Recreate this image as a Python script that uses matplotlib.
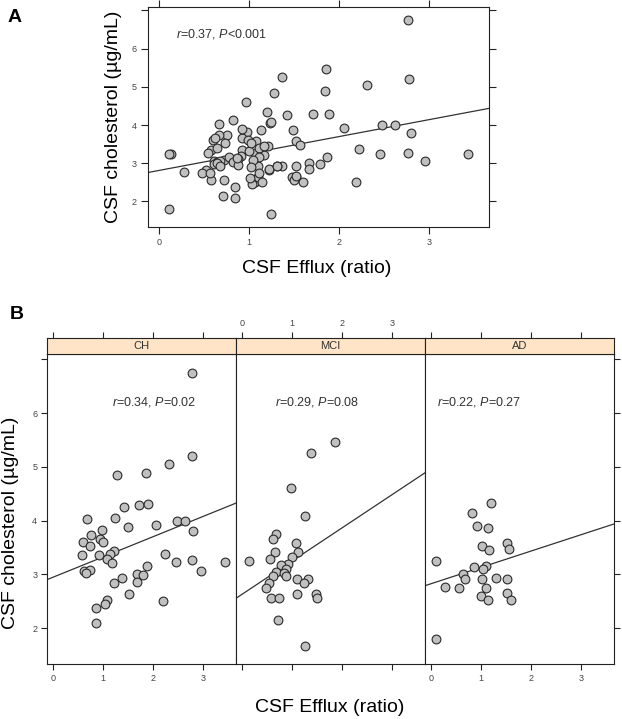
import matplotlib
matplotlib.use('Agg')
import matplotlib.pyplot as plt

plt.rcParams.update({
    "font.family": "Liberation Sans",
    "mathtext.fontset": "custom",
    "mathtext.it": "Liberation Sans:italic",
    "mathtext.rm": "Liberation Sans",
})

# values
groups = ["CH", "MCI", "AD"]

ch_efflux = [2.77, 2.78, 2.31, 1.85, 1.28, 1.71, 1.89, 1.42, 0.67, 1.24, 2.48, 2.63, 2.06,
             1.49, 0.98, 2.80, 0.76, 0.60, 0.93, 0.99, 0.74, 1.21, 1.13, 0.92, 1.07, 1.17,
             0.58, 2.23, 2.77, 2.46, 3.44, 0.61, 0.73, 0.65, 2.96, 1.87, 1.67, 1.79, 1.37,
             1.67, 1.22, 1.52, 2.19, 1.07, 1.04, 0.85, 0.85]
ch_chol = [6.75, 5.20, 5.06, 4.88, 4.85, 4.29, 4.30, 4.25, 4.03, 4.05, 4.00, 3.99, 3.92,
           3.88, 3.83, 3.80, 3.74, 3.61, 3.65, 3.61, 3.53, 3.44, 3.38, 3.35, 3.28, 3.21,
           3.35, 3.38, 3.27, 3.23, 3.23, 3.07, 3.08, 3.02, 3.07, 3.15, 3.01, 2.99, 2.94,
           2.86, 2.83, 2.63, 2.50, 2.52, 2.45, 2.37, 2.10]

mci_efflux = [1.86, 1.37, 0.97, 1.25, 0.67, 0.62, 1.08, 0.65, 0.14, 0.55, 1.11, 1.00, 0.91,
              0.78, 0.88, 0.68, 0.61, 0.83, 0.88, 1.10, 1.31, 1.23, 0.53, 0.48, 0.58, 0.73,
              1.10, 1.48, 1.50, 0.71, 1.25]
mci_chol = [5.46, 5.26, 4.61, 4.08, 3.75, 3.65, 3.58, 3.41, 3.25, 3.28, 3.41, 3.33, 3.20,
            3.17, 3.10, 3.05, 2.97, 3.02, 2.96, 2.92, 2.92, 2.84, 2.83, 2.74, 2.55, 2.55,
            2.63, 2.63, 2.55, 2.14, 1.66]

ad_efflux = [1.20, 0.83, 0.92, 1.14, 1.02, 1.17, 1.53, 1.57, 0.11, 0.87, 1.11, 1.05, 0.65,
             0.68, 1.02, 1.31, 1.53, 0.28, 0.57, 1.11, 1.01, 1.15, 1.53, 1.60, 0.11]
ad_chol = [4.33, 4.14, 3.90, 3.86, 3.52, 3.45, 3.58, 3.47, 3.25, 3.14, 3.16, 3.09, 3.00,
           2.92, 2.91, 2.94, 2.92, 2.76, 2.74, 2.74, 2.60, 2.52, 2.66, 2.52, 1.79]

# regression lines (intercept, slope)
fit_all = (2.81, 0.443)
fit_groups = [(2.945, 0.377), (2.627, 0.618), (2.824, 0.304)]

stat_all = r"$r$=0.37, $P$<0.001"
stat_groups = [r"$r$=0.34, $P$=0.02", r"$r$=0.29, $P$=0.08", r"$r$=0.22, $P$=0.27"]
stat_x = [1.18, 0.66, 0.12]

x_ticks = [0, 1, 2, 3]
y_ticks = [2, 3, 4, 5, 6, 7]
y_labels = ["2", "3", "4", "5", "6", ""]

efflux = [ch_efflux, mci_efflux, ad_efflux]
chol = [ch_chol, mci_chol, ad_chol]

POINT = dict(s=40, facecolor='#c0c0c0', edgecolor='#2a2a2a', linewidths=0.8, zorder=3)
EDGE = '#222222'
TXT = '#333333'

W, H = 622, 719
fig = plt.figure(figsize=(W / 100, H / 100), dpi=100)


def style(ax, length):
    for sp in ax.spines.values():
        sp.set_color(EDGE)
        sp.set_linewidth(0.8)
    ax.tick_params(direction='out', length=length, width=0.8, colors=EDGE,
                   labelsize=6.5, labelcolor='#444444', pad=3)


# ---- panel A ----
axA = fig.add_axes([148 / W, 1 - 227 / H, 341 / W, 220 / H])
axA.scatter(ch_efflux + mci_efflux + ad_efflux, ch_chol + mci_chol + ad_chol, **POINT)
axA.axline((0, fit_all[0]), slope=fit_all[1], color='#333333', lw=0.9, zorder=2)
axA.set_xlim(-0.12, 3.67)
axA.set_ylim(1.33, 7.09)
axA.set_xticks(x_ticks)
axA.set_yticks(y_ticks)
axA.set_yticklabels(y_labels)
style(axA, 5)
axA.tick_params(top=True, right=True, labeltop=False, labelright=False)
axA.text(0.19, 6.39, stat_all, fontsize=9, color=TXT, ha='left', va='center')

fig.text(113 / W, 1 - 117 / H, "CSF cholesterol (µg/mL)", rotation=90,
         ha='center', va='center', fontsize=14)
fig.text(317 / W, 1 - 268 / H, "CSF Efflux (ratio)", ha='center', va='center', fontsize=14)
fig.text(8 / W, 1 - 17 / H, "A", fontsize=14, fontweight='bold', ha='left', va='center')

# ---- panel B ----
lefts = [47, 236, 425]
pw = 189
for i, g in enumerate(groups):
    ax = fig.add_axes([lefts[i] / W, 1 - 664 / H, pw / W, 310 / H])
    ax.scatter(efflux[i], chol[i], **POINT)
    b, m = fit_groups[i]
    ax.axline((0, b), slope=m, color='#333333', lw=0.9, zorder=2)
    ax.set_xlim(-0.12, 3.66)
    ax.set_ylim(1.33, 7.1)
    ax.set_xticks(x_ticks)
    ax.set_yticks(y_ticks)
    ax.set_yticklabels(y_labels)
    style(ax, 4)
    ax.tick_params(top=False, left=(i == 0), right=(i == 2), labelleft=(i == 0),
                   labelright=False, labelbottom=(i != 1))
    ax.text(stat_x[i], 6.2, stat_groups[i], fontsize=9, color=TXT, ha='left', va='center')

    strip = fig.add_axes([lefts[i] / W, 1 - 354 / H, pw / W, 16 / H])
    strip.set_facecolor('#ffe4c8')
    strip.set_xlim(-0.12, 3.66)
    strip.set_ylim(0, 1)
    strip.set_yticks([])
    strip.set_xticks(x_ticks)
    style(strip, 4)
    strip.tick_params(bottom=False, labelbottom=False, top=True, labeltop=(i == 1))
    strip.text(0.5, 0.5, g, transform=strip.transAxes, ha='center', va='center',
               fontsize=8, color=TXT)

fig.text(11 / W, 1 - 523 / H, "CSF cholesterol (µg/mL)", rotation=90,
         ha='center', va='center', fontsize=14)
fig.text(330 / W, 1 - 707 / H, "CSF Efflux (ratio)", ha='center', va='center', fontsize=14)
fig.text(10 / W, 1 - 314 / H, "B", fontsize=14, fontweight='bold', ha='left', va='center')

fig.savefig("out.png", dpi=100)
